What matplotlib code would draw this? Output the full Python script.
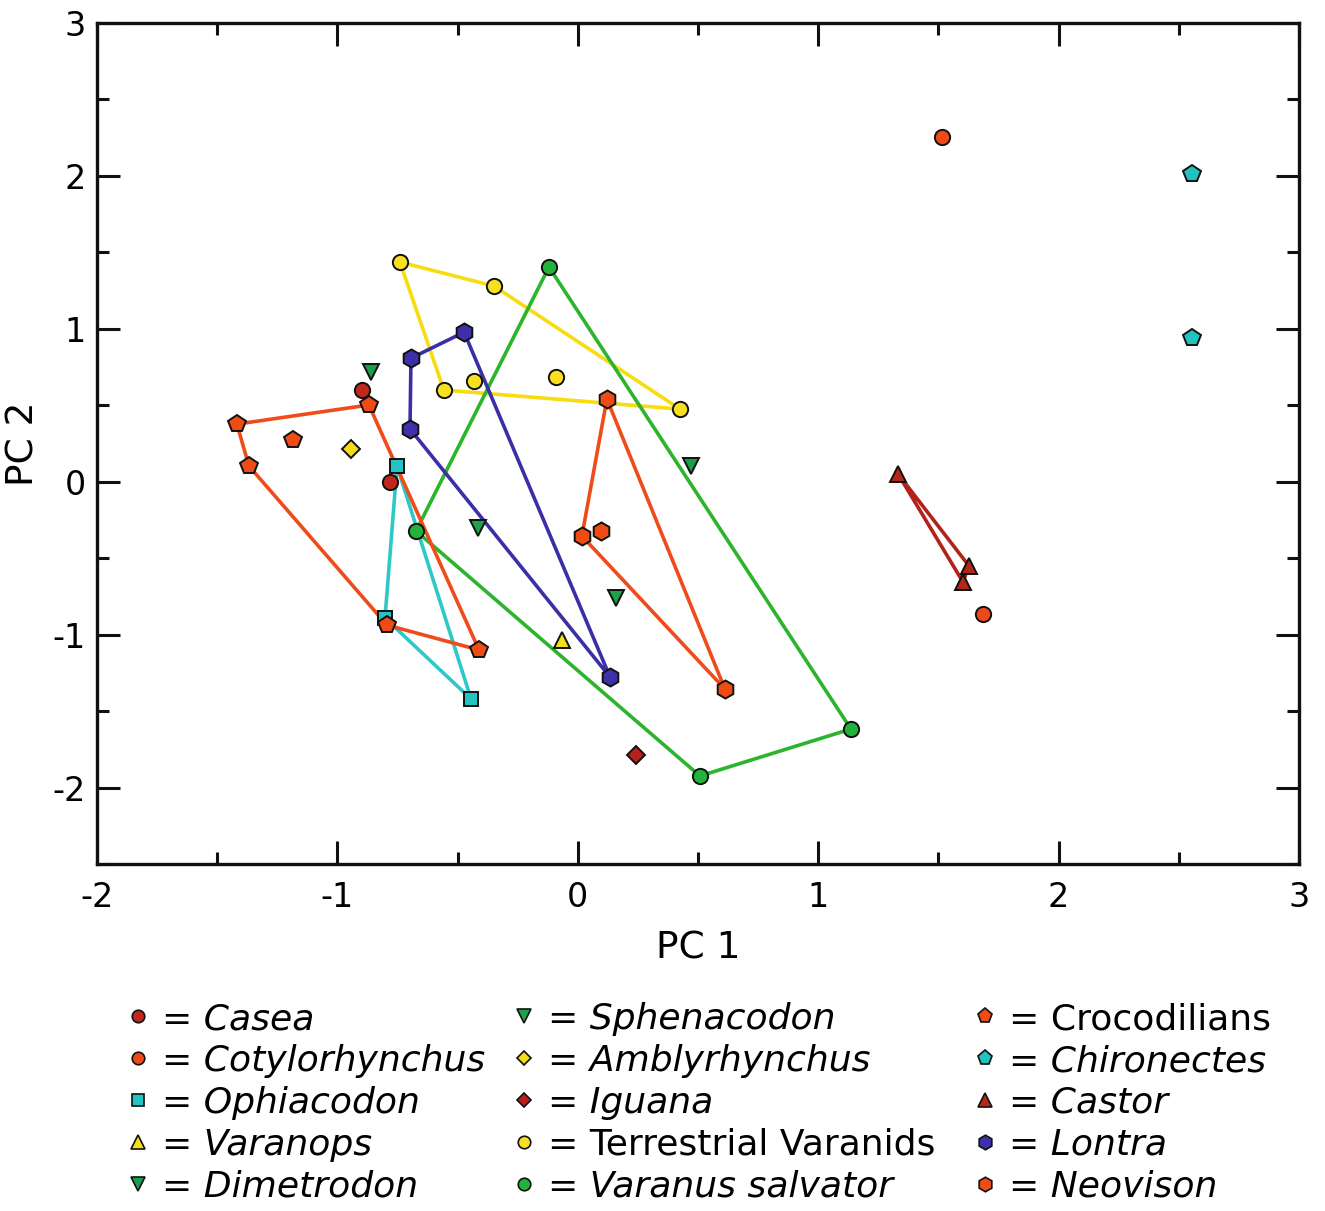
import matplotlib
matplotlib.use("Agg")
import matplotlib.pyplot as plt
from matplotlib.lines import Line2D
from matplotlib.ticker import MultipleLocator

plt.rcParams["font.family"] = "DejaVu Sans"
plt.rcParams["axes.unicode_minus"] = False

# PC scores per taxon; the first `hull` points of a group are joined as a closed polygon
casea_x = [-0.898, -0.781]
casea_y = [0.600, 0.000]
cotylo_x = [1.515, 1.686]
cotylo_y = [2.254, -0.866]
ophia_x = [-0.752, -0.802, -0.444]
ophia_y = [0.103, -0.891, -1.421]
varanops_x = [-0.066]
varanops_y = [-1.035]
dimetro_x = [-0.860, 0.471]
dimetro_y = [0.716, 0.103]
spheno_x = [-0.415, 0.159]
spheno_y = [-0.303, -0.761]
ambly_x = [-0.943]
ambly_y = [0.213]
iguana_x = [0.242]
iguana_y = [-1.787]
terr_x = [-0.740, -0.349, 0.425, -0.557, -0.432, -0.091]
terr_y = [1.437, 1.280, 0.475, 0.600, 0.658, 0.684]
salv_x = [-0.120, 1.136, 0.508, -0.673]
salv_y = [1.404, -1.617, -1.924, -0.322]
croc_x = [-1.418, -0.869, -0.411, -0.794, -1.368, -1.185]
croc_y = [0.377, 0.502, -1.100, -0.937, 0.103, 0.273]
chiro_x = [2.555, 2.555]
chiro_y = [2.011, 0.939]
castor_x = [1.332, 1.627, 1.602]
castor_y = [0.051, -0.550, -0.655]
lontra_x = [-0.694, -0.473, 0.134, -0.698]
lontra_y = [0.808, 0.978, -1.277, 0.345]
neo_x = [0.121, 0.612, 0.017, 0.097]
neo_y = [0.541, -1.356, -0.355, -0.322]

# (label, italic, x, y, marker, face colour, line colour, hull size)
groups = [
    ("Casea", True, casea_x, casea_y, "o", "#c0281e", None, 0),
    ("Cotylorhynchus", True, cotylo_x, cotylo_y, "o", "#ec4a18", None, 0),
    ("Ophiacodon", True, ophia_x, ophia_y, "s", "#22c4c4", "#2ec8c8", 3),
    ("Varanops", True, varanops_x, varanops_y, "^", "#f5de1a", None, 0),
    ("Dimetrodon", True, dimetro_x, dimetro_y, "v", "#1a9e4a", None, 0),
    ("Sphenacodon", True, spheno_x, spheno_y, "v", "#1da34c", None, 0),
    ("Amblyrhynchus", True, ambly_x, ambly_y, "D", "#f3dc1a", None, 0),
    ("Iguana", True, iguana_x, iguana_y, "D", "#b82018", None, 0),
    ("Terrestrial Varanids", False, terr_x, terr_y, "o", "#f8e020", "#f7dc10", 4),
    ("Varanus salvator", True, salv_x, salv_y, "o", "#22b33a", "#2cb52c", 4),
    ("Crocodilians", False, croc_x, croc_y, "p", "#ee4c14", "#f04b1a", 5),
    ("Chironectes", True, chiro_x, chiro_y, "p", "#1fc3bf", None, 0),
    ("Castor", True, castor_x, castor_y, "^", "#b5261a", "#b3221a", 3),
    ("Lontra", True, lontra_x, lontra_y, "h", "#3d30a8", "#3a2fa5", 4),
    ("Neovison", True, neo_x, neo_y, "h", "#ee4c14", "#f04b1a", 3),
]

# marker sizes so that the different shapes look about equally big
plot_ms = {"o": 11, "s": 9.5, "^": 12, "v": 12, "D": 9, "p": 13, "h": 13}
legend_ms = {"o": 9, "s": 8, "^": 10, "v": 10, "D": 7.5, "p": 11, "h": 10.5}

fig = plt.figure(figsize=(13.25, 12.11), dpi=100)
ax = fig.add_axes([0.0732, 0.2865, 0.9072, 0.6945])

handles = []
for label, it, xs, ys, mk, fc, lc, hull in groups:
    if hull:
        hx = list(xs[:hull]) + [xs[0]]
        hy = list(ys[:hull]) + [ys[0]]
        ax.plot(hx, hy, color=lc, lw=2.6, zorder=2)
    ax.plot(xs, ys, linestyle="none", marker=mk, ms=plot_ms[mk], mfc=fc,
            mec="#111111", mew=1.4, zorder=3)
    handles.append(Line2D([], [], linestyle="none", marker=mk, ms=legend_ms[mk],
                          mfc=fc, mec="#111111", mew=1.2, label="= " + label))

ax.set_xlim(-2, 3)
ax.set_ylim(-2.5, 3)
ax.xaxis.set_major_locator(MultipleLocator(1))
ax.xaxis.set_minor_locator(MultipleLocator(0.5))
ax.yaxis.set_major_locator(MultipleLocator(1))
ax.yaxis.set_minor_locator(MultipleLocator(0.5))
ax.tick_params(which="both", direction="in", top=True, right=True, width=2.2,
               labelsize=24, color="#111111")
ax.tick_params(axis="x", which="major", length=16.5, pad=12)
ax.tick_params(axis="y", which="major", length=16.5, pad=8)
ax.tick_params(which="minor", length=8.5)
for s in ax.spines.values():
    s.set_linewidth(2.4)
    s.set_color("#111111")

ax.set_xlabel("PC 1", fontsize=27, labelpad=12)
ax.set_ylabel("PC 2", fontsize=27, labelpad=8)

# key below the plot: three columns of five, each placed on its own
col_left = [0.0936, 0.3849, 0.7328]
for c, x0 in enumerate(col_left):
    part = slice(5 * c, 5 * c + 5)
    leg = fig.legend(handles=handles[part], loc="upper left",
                     bbox_to_anchor=(x0, 0.1725), frameon=False, fontsize=26,
                     handlelength=0.8, handletextpad=0.25, labelspacing=0.22,
                     borderaxespad=0, borderpad=0)
    for txt, g in zip(leg.get_texts(), groups[part]):
        if g[1]:
            txt.set_fontstyle("italic")

fig.savefig("out.png", dpi=100)
